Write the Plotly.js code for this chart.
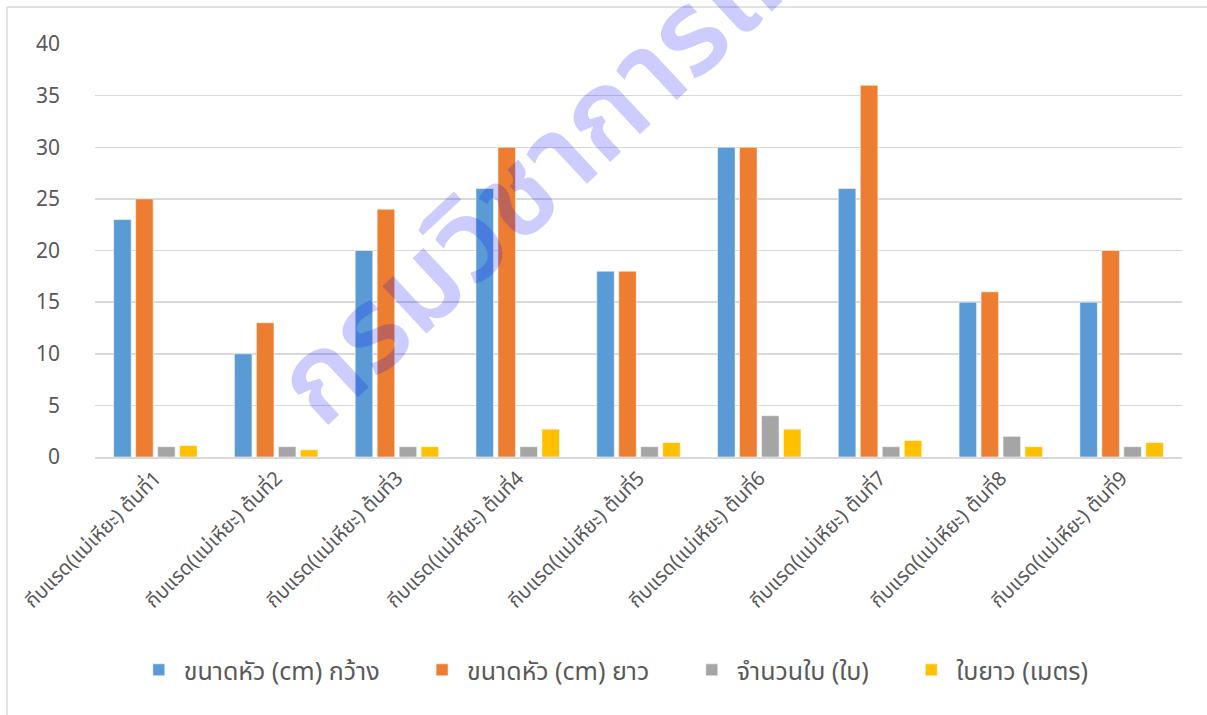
<!DOCTYPE html>
<html>
<head>
<meta charset="utf-8">
<script src="https://cdn.plot.ly/plotly-3.0.1.min.js"></script>
<style>
  html, body { margin: 0; padding: 0; background: #ffffff; }
  #chart { width: 1207px; height: 715px; }
</style>
</head>
<body>
<div id="chart"></div>
<script>
// Plant labels along the category axis
const categories = [
  'กีบแรด(แม่เหียะ) ต้นที่1',
  'กีบแรด(แม่เหียะ) ต้นที่2',
  'กีบแรด(แม่เหียะ) ต้นที่3',
  'กีบแรด(แม่เหียะ) ต้นที่4',
  'กีบแรด(แม่เหียะ) ต้นที่5',
  'กีบแรด(แม่เหียะ) ต้นที่6',
  'กีบแรด(แม่เหียะ) ต้นที่7',
  'กีบแรด(แม่เหียะ) ต้นที่8',
  'กีบแรด(แม่เหียะ) ต้นที่9'
];

// Series names
const seriesNames = [
  'ขนาดหัว (cm) กว้าง',
  'ขนาดหัว (cm) ยาว',
  'จำนวนใบ (ใบ)',
  'ใบยาว (เมตร)'
];

// Measurements per plant
const headWidth  = [23, 10, 20, 26, 18, 30, 26, 15, 15];
const headLength = [25, 13, 24, 30, 18, 30, 36, 16, 20];
const leafCount  = [1, 1, 1, 1, 1, 4, 1, 2, 1];
const leafLength = [1.1, 0.7, 1.0, 2.7, 1.4, 2.7, 1.6, 1.0, 1.4];

const yTicks = [0, 5, 10, 15, 20, 25, 30, 35, 40];

const colors = ['#5b9bd5', '#ed7d31', '#a5a5a5', '#ffc000'];
const seriesValues = [headWidth, headLength, leafCount, leafLength];

const thaiFont = '"Noto Sans Thai", "Leelawadee UI", "Noto Sans", sans-serif';

const traces = seriesValues.map((vals, i) => ({
  type: 'bar',
  name: seriesNames[i] + '\u00a0\u00a0\u00a0\u00a0\u00a0',
  x: categories,
  y: vals,
  marker: { color: colors[i], line: { color: 'rgba(255,255,255,0.55)', width: 1 } },
  hoverinfo: 'x+y+name'
}));

const layout = {
  width: 1207,
  height: 715,
  paper_bgcolor: '#ffffff',
  plot_bgcolor: '#ffffff',
  margin: { l: 95, r: 25, t: 44, b: 258 },
  barmode: 'group',
  bargap: 0.272,
  bargroupgap: 0.2,
  font: { family: thaiFont, color: '#595959' },
  xaxis: {
    type: 'category',
    range: [-0.5, 8.5],
    tickangle: -45,
    tickfont: { family: thaiFont, size: 20, color: '#595959' },
    showgrid: false,
    showline: true,
    linecolor: '#d9d9d9',
    linewidth: 1.5,
    ticks: '',
    automargin: false
  },
  yaxis: {
    range: [0, 40],
    tickvals: yTicks,
    ticktext: yTicks.map(String),
    tickfont: { family: thaiFont, size: 21, color: '#595959' },
    showgrid: true,
    gridcolor: '#d9d9d9',
    gridwidth: 1.5,
    zeroline: false,
    showline: false,
    ticks: '',
    ticklabelstandoff: 34,
    automargin: false
  },
  showlegend: true,
  legend: {
    orientation: 'h',
    x: 0.492,
    xanchor: 'center',
    y: -0.516,
    yanchor: 'middle',
    itemwidth: 40,
    font: { family: thaiFont, size: 25, color: '#595959' },
    traceorder: 'normal'
  },
  shapes: [
    // chart-area frame (left and top edges)
    { type: 'line', xref: 'paper', yref: 'paper',
      x0: (7 - 95) / 1087, x1: (7 - 95) / 1087, y0: (457 - 7) / 413, y1: -1,
      line: { color: '#d9d9d9', width: 1.5 } },
    { type: 'line', xref: 'paper', yref: 'paper',
      x0: (7 - 95) / 1087, x1: 1.1, y0: (457 - 7) / 413, y1: (457 - 7) / 413,
      line: { color: '#d9d9d9', width: 1.5 } }
  ],
  annotations: [
    {
      text: 'กรมวิชาการเกษตร',
      xref: 'paper', yref: 'paper',
      x: (624 - 95) / 1087, y: (457 - 100) / 413,
      xanchor: 'center', yanchor: 'middle',
      textangle: -43,
      showarrow: false,
      font: { family: thaiFont, size: 118, weight: 600, color: 'rgba(0,0,255,0.2)' }
    }
  ]
};

Plotly.newPlot('chart', traces, layout, { displayModeBar: false, staticPlot: true });
</script>
</body>
</html>
